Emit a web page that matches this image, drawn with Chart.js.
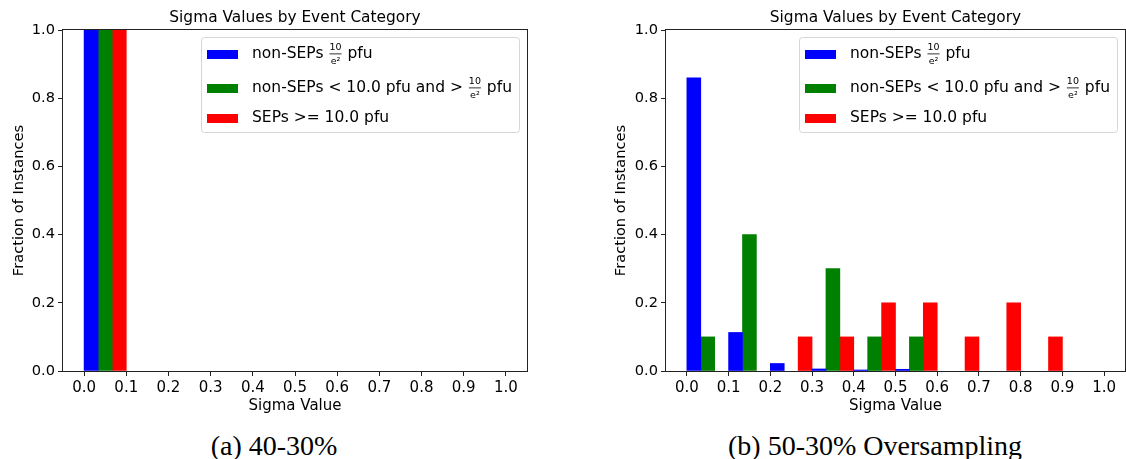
<!DOCTYPE html>
<html>
<head>
<meta charset="utf-8">
<script src="https://cdn.jsdelivr.net/npm/chart.js@4.4.1/dist/chart.umd.min.js"></script>
<style>
  html, body { margin: 0; padding: 0; background: #fff; }
  body { width: 1126px; height: 459px; position: relative; overflow: hidden; }
  .panel { position: absolute; top: 0; }
  .caption { position: absolute; top: 429px; font-family: "Liberation Serif", serif; font-size: 28px; color: #000; white-space: nowrap; transform: translateX(-50%); line-height: 34px; }
</style>
</head>
<body>
<div class="panel" style="left:0px"><canvas id="chartA" width="545" height="415"></canvas></div>
<div class="panel" style="left:602px"><canvas id="chartB" width="524" height="415"></canvas></div>
<div class="caption" style="left:274px">(a) 40-30%</div>
<div class="caption" style="left:875px">(b) 50-30% Oversampling</div>
<script>
// ---- data ----
const sigmaBins = [0.0, 0.1, 0.2, 0.3, 0.4, 0.5, 0.6, 0.7, 0.8, 0.9];
const binWidth = 0.1;
const xTicks = [0.0, 0.1, 0.2, 0.3, 0.4, 0.5, 0.6, 0.7, 0.8, 0.9, 1.0];
const xTickLabels = ['0.0', '0.1', '0.2', '0.3', '0.4', '0.5', '0.6', '0.7', '0.8', '0.9', '1.0'];
const yTicks = [0.0, 0.2, 0.4, 0.6, 0.8, 1.0];
const yTickLabels = ['0.0', '0.2', '0.4', '0.6', '0.8', '1.0'];
const seriesColors = ['#0000ff', '#008000', '#ff0000'];

// (a) 40-30%
const aNonSEP = [1.0, 0, 0, 0, 0, 0, 0, 0, 0, 0];
const aBetween = [1.0, 0, 0, 0, 0, 0, 0, 0, 0, 0];
const aSEP = [1.0, 0, 0, 0, 0, 0, 0, 0, 0, 0];
// (b) 50-30% Oversampling
const bNonSEP = [0.86, 0.113, 0.022, 0.006, 0.003, 0.005, 0, 0, 0, 0];
const bBetween = [0.1, 0.4, 0, 0.3, 0.1, 0.1, 0, 0, 0, 0];
const bSEP = [0, 0, 0.1, 0.1, 0.2, 0.2, 0.1, 0.2, 0.1, 0];

const chartTitle = 'Sigma Values by Event Category';
const xTitle = 'Sigma Value';
const yTitle = 'Fraction of Instances';
// legend rows: plain strings and {num, den} fractions
const FRAC = { num: '10', den: 'e²' };
const legendRows = [
  ['non-SEPs ', FRAC, ' pfu'],
  ['non-SEPs < 10.0 pfu and > ', FRAC, ' pfu'],
  ['SEPs >= 10.0 pfu']
];

const FONT = '"DejaVu Sans", sans-serif';

function toPoints(vals) {
  // empty bins are not drawn
  return vals.map((v, i) => ({ x: sigmaBins[i] + binWidth / 2, y: v === 0 ? null : v }));
}

const titlePlugin = {
  id: 'areaTitle',
  afterDraw(chart) {
    const ctx = chart.ctx, ca = chart.chartArea;
    ctx.save();
    ctx.font = '15.4px ' + FONT;
    ctx.fillStyle = '#000';
    ctx.textAlign = 'center';
    ctx.textBaseline = 'middle';
    ctx.fillText(chartTitle, (ca.left + ca.right) / 2, 18);
    ctx.restore();
  }
};

const legendPlugin = {
  id: 'fracLegend',
  afterDatasetsDraw(chart) {
    const ctx = chart.ctx, ca = chart.chartArea;
    const fs = 15.5, sfs = 9.5;
    ctx.save();
    const fracW = p => { ctx.font = sfs + 'px ' + FONT; return Math.max(ctx.measureText(p.num).width, ctx.measureText(p.den).width) + 2; };
    const rowW = legendRows.map(parts => {
      let w = 0;
      parts.forEach(p => {
        if (typeof p === 'string') { ctx.font = fs + 'px ' + FONT; w += ctx.measureText(p).width; }
        else w += fracW(p);
      });
      return w;
    });
    const patchW = 31, patchH = 9, padL = 6, gap = 14, padR = 7;
    const boxW = padL + patchW + gap + Math.max(...rowW) + padR;
    const rowCenters = [17, 51, 81];
    const boxH = 95;
    const bx = Math.round(ca.right - 8 - boxW), by = Math.round(ca.top + 7);
    ctx.beginPath();
    if (ctx.roundRect) ctx.roundRect(bx + 0.5, by + 0.5, boxW, boxH, 3); else ctx.rect(bx + 0.5, by + 0.5, boxW, boxH);
    ctx.fillStyle = 'rgba(255,255,255,0.8)';
    ctx.fill();
    ctx.strokeStyle = '#d6d6d6';
    ctx.lineWidth = 1;
    ctx.stroke();
    legendRows.forEach((parts, r) => {
      const cy = by + rowCenters[r];
      ctx.fillStyle = seriesColors[r];
      ctx.fillRect(bx + padL, Math.round(cy - patchH / 2), patchW, patchH);
      let x = bx + padL + patchW + gap;
      ctx.fillStyle = '#000';
      ctx.textBaseline = 'middle';
      parts.forEach(p => {
        if (typeof p === 'string') {
          ctx.font = fs + 'px ' + FONT;
          ctx.textAlign = 'left';
          ctx.fillText(p, x, cy);
          x += ctx.measureText(p).width;
        } else {
          const w = fracW(p);
          ctx.font = sfs + 'px ' + FONT;
          const mx = x + w / 2;
          ctx.textAlign = 'center';
          ctx.fillText(p.num, mx, cy - 6);
          ctx.fillText(p.den, mx, cy + 7.5);
          ctx.fillRect(x + 1, cy - 0.5, w - 2, 0.8);
          x += w;
        }
      });
    });
    ctx.restore();
  }
};

const framePlugin = {
  id: 'frame',
  afterDraw(chart) {
    const ctx = chart.ctx, ca = chart.chartArea;
    ctx.save();
    ctx.strokeStyle = '#222';
    ctx.lineWidth = 1;
    ctx.strokeRect(Math.round(ca.left) - 0.5, Math.round(ca.top) - 0.5, Math.round(ca.right - ca.left) + 1, Math.round(ca.bottom - ca.top) + 1);
    ctx.restore();
  }
};

function makeChart(id, series, yAxisWidth, padRight) {
  return new Chart(document.getElementById(id), {
    type: 'bar',
    data: {
      datasets: series.map((vals, k) => ({
        label: 'series' + k,
        data: toPoints(vals),
        backgroundColor: seriesColors[k],
        borderWidth: 0,
        categoryPercentage: 1.0,
        barPercentage: 1.0
      }))
    },
    options: {
      responsive: false,
      animation: false,
      layout: { padding: { left: 0, right: padRight, top: 30, bottom: 0 } },
      plugins: {
        legend: { display: false },
        tooltip: { enabled: false },
        title: { display: false }
      },
      scales: {
        x: {
          type: 'linear', min: -0.05, max: 1.05, offset: false,
          afterBuildTicks: s => { s.ticks = xTicks.map(v => ({ value: v })); },
          afterFit: s => { s.height = 44; },
          ticks: { color: '#000', font: { family: FONT, size: 15 }, padding: 3, maxRotation: 0, autoSkip: false,
                   callback: (v, i) => xTickLabels[i] },
          grid: { display: true, drawOnChartArea: false, drawTicks: true, tickLength: 5, color: '#222', offset: false },
          border: { display: false },
          title: { display: true, text: xTitle, color: '#000', font: { family: FONT, size: 15 }, padding: { top: 0, bottom: 0 } }
        },
        y: {
          min: 0, max: 1,
          afterBuildTicks: s => { s.ticks = yTicks.map(v => ({ value: v })); },
          afterFit: s => { s.width = yAxisWidth; },
          ticks: { color: '#000', font: { family: FONT, size: 14.6 }, padding: 3, callback: (v, i) => yTickLabels[i] },
          grid: { display: true, drawOnChartArea: false, drawTicks: true, tickLength: 5, color: '#222' },
          border: { display: false },
          title: { display: true, text: yTitle, color: '#000', font: { family: FONT, size: 14.6 }, padding: { top: 10, bottom: 0 } }
        }
      }
    },
    plugins: [legendPlugin, framePlugin, titlePlugin]
  });
}

makeChart('chartA', [aNonSEP, aBetween, aSEP], 63, 18);
makeChart('chartB', [bNonSEP, bBetween, bSEP], 64, 1);
</script>
</body>
</html>
